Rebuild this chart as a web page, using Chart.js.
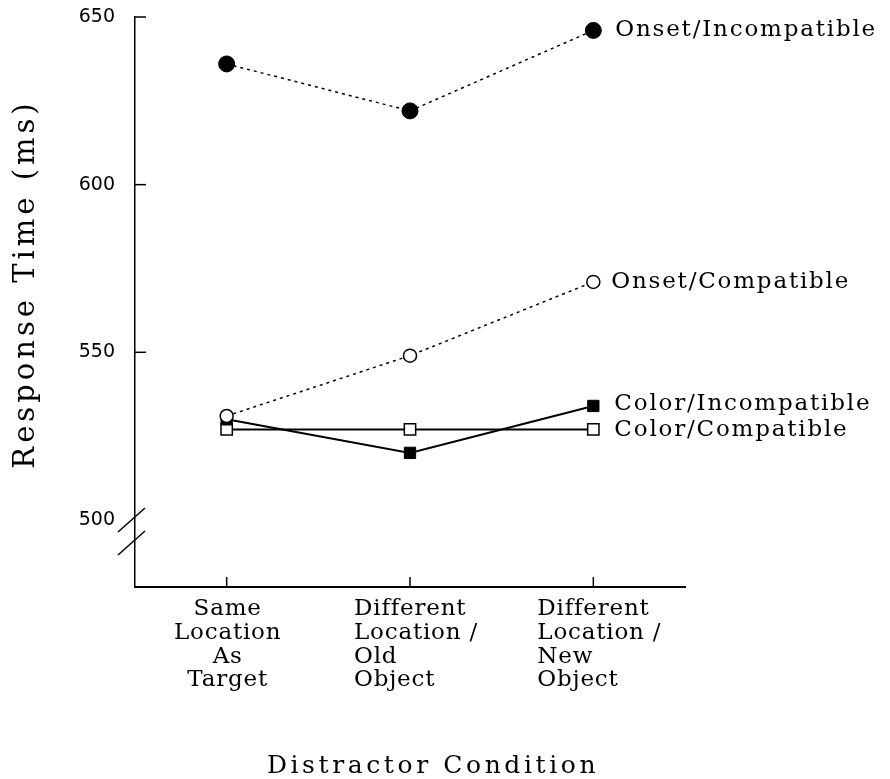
<!DOCTYPE html>
<html>
<head>
<meta charset="utf-8">
<script src="https://cdn.jsdelivr.net/npm/chart.js@4"></script>
<style>
  body { margin: 0; background: #fff; }
</style>
</head>
<body>
<canvas id="rtChart" width="890" height="779"></canvas>
<script>
// 条件（x軸カテゴリ）
const conditions = [
    ['Same', 'Location', 'As', 'Target'],
    ['Different', 'Location /', 'Old', 'Object'],
    ['Different', 'Location /', 'New', 'Object']
];
const yTicks = [500, 550, 600, 650];

// 各系列の反応時間 (ms)
const onsetIncompatible = [636, 622, 646];
const onsetCompatible = [531, 549, 571];
const colorIncompatible = [530, 520, 534];
const colorCompatible = [527, 527, 527];

const serif = '"DejaVu Serif", serif';

// 軸・ラベルなどを描くプラグイン
const decor = {
    id: 'decor',
    afterDraw(chart) {
        const ctx = chart.ctx;
        const x = chart.scales.x;
        const y = chart.scales.y;
        const area = chart.chartArea;
        ctx.save();
        ctx.strokeStyle = '#000';
        ctx.fillStyle = '#000';
        ctx.lineWidth = 1.5;

        // y軸の目盛りラベルと内向き目盛り
        ctx.font = '19px "DejaVu Sans", sans-serif';
        ctx.textAlign = 'right';
        ctx.textBaseline = 'middle';
        yTicks.forEach(v => {
            const py = y.getPixelForValue(v);
            ctx.fillText(String(v), area.left - 20, py);
            if (v === 500) return;
            ctx.beginPath();
            ctx.moveTo(area.left, py);
            ctx.lineTo(area.left + 11, py);
            ctx.stroke();
        });

        // 軸の省略記号 (500)
        const y500 = y.getPixelForValue(500);
        [0, 23].forEach(d => {
            ctx.beginPath();
            ctx.moveTo(area.left - 17, y500 + 12 + d);
            ctx.lineTo(area.left + 10, y500 - 12 + d);
            ctx.stroke();
        });

        // x軸の目盛り（上向き）
        conditions.forEach((c, i) => {
            const px = x.getPixelForValue(i);
            ctx.beginPath();
            ctx.moveTo(px, area.bottom);
            ctx.lineTo(px, area.bottom - 10);
            ctx.stroke();
        });

        // x軸ラベル
        ctx.font = '23px ' + serif;
        ctx.letterSpacing = '0.8px';
        conditions.forEach((lines, i) => {
            const px = x.getPixelForValue(i);
            lines.forEach((t, j) => {
                const py = area.bottom + 22 + j * 23.8;
                if (i === 0) {
                    ctx.textAlign = 'center';
                    ctx.fillText(t, px + 1, py);
                } else {
                    ctx.textAlign = 'left';
                    ctx.fillText(t, px - 56, py);
                }
            });
        });

        // 系列ラベル
        ctx.font = '23px ' + serif;
        ctx.letterSpacing = '1.8px';
        ctx.textAlign = 'left';
        chart.data.datasets.forEach((ds, i) => {
            const meta = chart.getDatasetMeta(i);
            const pt = meta.data[meta.data.length - 1];
            ctx.fillText(ds.label, pt.x + ds.labelDx, pt.y + ds.labelDy);
        });

        // 軸タイトル
        ctx.font = '25px ' + serif;
        ctx.letterSpacing = '3.6px';
        ctx.textAlign = 'center';
        ctx.textBaseline = 'alphabetic';
        ctx.fillText('Distractor Condition', 433, 773);

        ctx.translate(34, 284);
        ctx.rotate(-Math.PI / 2);
        ctx.font = '29px ' + serif;
        ctx.letterSpacing = '4px';
        ctx.fillText('Response Time (ms)', 0, 0);
        ctx.restore();
    }
};

const ctx = document.getElementById('rtChart').getContext('2d');
new Chart(ctx, {
    type: 'line',
    data: {
        labels: conditions.map(c => c.join(' ')),
        datasets: [
            {
                label: 'Onset/Incompatible',
                data: onsetIncompatible,
                borderColor: '#000',
                backgroundColor: '#000',
                borderWidth: 1.5,
                borderDash: [3, 4],
                pointStyle: 'circle',
                pointRadius: 8,
                pointBorderWidth: 1,
                labelDx: 22, labelDy: 0
            },
            {
                label: 'Onset/Compatible',
                data: onsetCompatible,
                borderColor: '#000',
                backgroundColor: '#fff',
                borderWidth: 1.5,
                borderDash: [3, 4],
                pointStyle: 'circle',
                pointRadius: 6.5,
                pointBorderWidth: 1.5,
                labelDx: 18, labelDy: 0
            },
            {
                label: 'Color/Incompatible',
                data: colorIncompatible,
                borderColor: '#000',
                backgroundColor: '#000',
                borderWidth: 2,
                pointStyle: 'rect',
                pointRadius: 8,
                pointBorderWidth: 1,
                labelDx: 21, labelDy: -2
            },
            {
                label: 'Color/Compatible',
                data: colorCompatible,
                borderColor: '#000',
                backgroundColor: '#fff',
                borderWidth: 2,
                pointStyle: 'rect',
                pointRadius: 8,
                pointBorderWidth: 1.5,
                labelDx: 21, labelDy: 1
            }
        ]
    },
    options: {
        responsive: false,
        animation: false,
        events: [],
        layout: { autoPadding: false, padding: { top: 17, right: 205, left: 0, bottom: 0 } },
        plugins: {
            legend: { display: false },
            tooltip: { enabled: false }
        },
        elements: { line: { tension: 0, fill: false }, point: { hoverRadius: 0 } },
        datasets: { line: { clip: false } },
        scales: {
            x: {
                type: 'category',
                offset: true,
                grid: { display: false, drawTicks: false },
                border: { display: true, color: '#000', width: 2 },
                ticks: { display: false },
                afterFit: s => { s.height = 192; }
            },
            y: {
                min: 480,
                max: 650,
                afterBuildTicks: s => { s.ticks = yTicks.map(v => ({ value: v })); },
                grid: { display: false, drawTicks: false },
                border: { display: true, color: '#000', width: 1.5 },
                ticks: { display: false },
                afterFit: s => { s.width = 135; }
            }
        }
    },
    plugins: [decor]
});
</script>
</body>
</html>
